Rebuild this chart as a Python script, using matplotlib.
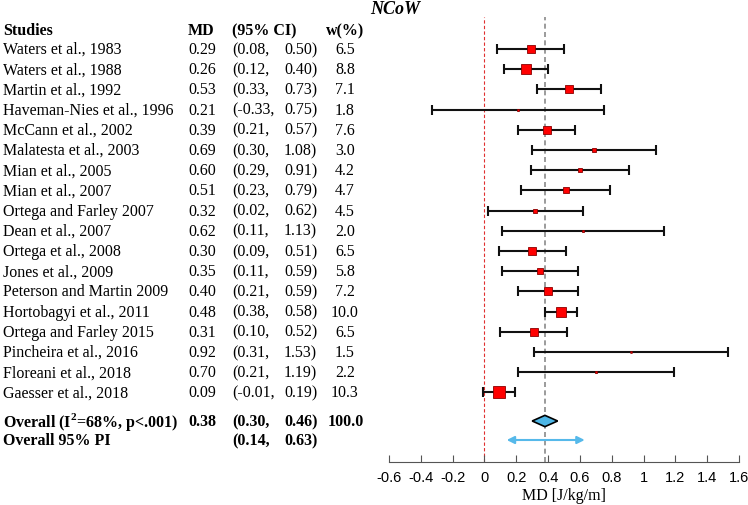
import matplotlib
matplotlib.use('Agg')
import matplotlib.pyplot as plt
import matplotlib.transforms as mtransforms

plt.rcParams['font.family'] = 'Liberation Serif'
plt.rcParams['mathtext.fontset'] = 'custom'
plt.rcParams['mathtext.rm'] = 'Liberation Serif'
plt.rcParams['mathtext.bf'] = 'Liberation Serif:bold'

studies = ['Waters et al., 1983', 'Waters et al., 1988', 'Martin et al., 1992',
           'Haveman-Nies et al., 1996', 'McCann et al., 2002', 'Malatesta et al., 2003',
           'Mian et al., 2005', 'Mian et al., 2007', 'Ortega and Farley 2007',
           'Dean et al., 2007', 'Ortega et al., 2008', 'Jones et al., 2009',
           'Peterson and Martin 2009', 'Hortobagyi et al., 2011', 'Ortega and Farley 2015',
           'Pincheira et al., 2016', 'Floreani et al., 2018', 'Gaesser et al., 2018']
md = [0.29, 0.26, 0.53, 0.21, 0.39, 0.69, 0.60, 0.51, 0.32, 0.62, 0.30, 0.35,
      0.40, 0.48, 0.31, 0.92, 0.70, 0.09]
lo = [0.08, 0.12, 0.33, -0.33, 0.21, 0.30, 0.29, 0.23, 0.02, 0.11, 0.09, 0.11,
      0.21, 0.38, 0.10, 0.31, 0.21, -0.01]
hi = [0.50, 0.40, 0.73, 0.75, 0.57, 1.08, 0.91, 0.79, 0.62, 1.13, 0.51, 0.59,
      0.59, 0.58, 0.52, 1.53, 1.19, 0.19]
w = [6.5, 8.8, 7.1, 1.8, 7.6, 3.0, 4.2, 4.7, 4.5, 2.0, 6.5, 5.8, 7.2, 10.0,
     6.5, 1.5, 2.2, 10.3]

overall = 0.38
overall_ci = (0.30, 0.46)
pi = (0.14, 0.63)
xticks = [-0.6, -0.4, -0.2, 0, 0.2, 0.4, 0.6, 0.8, 1, 1.2, 1.4, 1.6]

W, H = 748, 506
fig = plt.figure(figsize=(W / 100, H / 100), dpi=100)
# axes placed in pixel terms: x -0.6..1.6 -> 389..739 px, top 18 px, axis line 463 px
ax = fig.add_axes([389 / W, 1 - 463 / H, 350 / W, (463 - 18) / H])

row_px0, row_step = 50, 20.2
def ypos(px):
    return (px - row_px0) / row_step

n = len(studies)
ax.set_xlim(-0.6, 1.6)
ax.set_ylim(ypos(463), ypos(18))

# reference lines
ax.axvline(0, color='#e03030', ls=(0, (3, 2)), lw=0.8, zorder=1)
ax.axvline(overall, color='#8a8a8a', ls=(0, (3, 2)), lw=1.2, zorder=1)

rows = list(range(n))
for i in rows:
    ax.errorbar(md[i], i, xerr=[[md[i] - lo[i]], [hi[i] - md[i]]], fmt='none',
                ecolor='#111111', elinewidth=1.5, capsize=3.5, capthick=1.5, zorder=2)
    ax.plot(md[i], i, marker='s', ms=0.78 * w[i], mfc='#ff0000', mec='#8b0000',
            mew=0.6, zorder=3)

# overall diamond
yd = ypos(422)
dh = 0.28
ax.fill([overall_ci[0], overall, overall_ci[1], overall],
        [yd, yd - dh, yd, yd + dh], facecolor='#4db6e6', edgecolor='black',
        lw=1.2, zorder=4)

# prediction interval arrow
yp = ypos(441)
ax.annotate('', xy=(pi[0], yp), xytext=(pi[1], yp),
            arrowprops=dict(arrowstyle='<|-|>', color='#56b9ea', lw=1.5,
                            mutation_scale=11, shrinkA=0, shrinkB=0))

for s in ['top', 'right', 'left']:
    ax.spines[s].set_visible(False)
ax.spines['bottom'].set_color('#555555')
ax.set_yticks([])
ax.set_xticks(xticks)
ax.set_xticklabels(['%g' % t for t in xticks], fontfamily='Liberation Sans',
                   fontsize=10.5)
ax.tick_params(axis='x', direction='in', length=5, color='#555555', pad=6)
ax.set_xlabel('MD [J/kg/m]', fontsize=11.5, labelpad=2)

# left table
tr = mtransforms.blended_transform_factory(fig.transFigure, ax.transData)
fs = 11.5
cx_name, cx_md, cx_ci1, cx_ci2, cx_w = 3 / W, 188 / W, 232 / W, 284 / W, 345 / W

yh = ypos(31)
ax.text(cx_name, yh, 'Studies', transform=tr, fontsize=fs, fontweight='bold', va='center')
ax.text(cx_md, yh, 'MD', transform=tr, fontsize=fs, fontweight='bold', va='center')
ax.text(cx_ci1, yh, '(95% CI)', transform=tr, fontsize=fs, fontweight='bold', va='center')
ax.text(cx_w, yh, 'w(%)', transform=tr, fontsize=fs, fontweight='bold', va='center', ha='center')

for i in rows:
    ax.text(cx_name, i, studies[i], transform=tr, fontsize=fs, va='center')
    ax.text(cx_md, i, '%.2f' % md[i], transform=tr, fontsize=fs, va='center')
    ax.text(cx_ci1, i, '(%.2f,' % lo[i], transform=tr, fontsize=fs, va='center')
    ax.text(cx_ci2, i, '%.2f)' % hi[i], transform=tr, fontsize=fs, va='center')
    ax.text(cx_w, i, '%.1f' % w[i], transform=tr, fontsize=fs, va='center', ha='center')

ax.text(cx_name, yd, r'Overall (I$^{\mathbf{2}}$=68%, p<.001)', transform=tr,
        fontsize=fs, fontweight='bold', va='center')
ax.text(cx_md, yd, '%.2f' % overall, transform=tr, fontsize=fs, fontweight='bold', va='center')
ax.text(cx_ci1, yd, '(%.2f,' % overall_ci[0], transform=tr, fontsize=fs, fontweight='bold', va='center')
ax.text(cx_ci2, yd, '%.2f)' % overall_ci[1], transform=tr, fontsize=fs, fontweight='bold', va='center')
ax.text(346 / W, yd, '100.0', transform=tr, fontsize=fs, fontweight='bold', va='center', ha='center')

ax.text(cx_name, yp, 'Overall 95% PI', transform=tr, fontsize=fs, fontweight='bold', va='center')
ax.text(cx_ci1, yp, '(%.2f,' % pi[0], transform=tr, fontsize=fs, fontweight='bold', va='center')
ax.text(cx_ci2, yp, '%.2f)' % pi[1], transform=tr, fontsize=fs, fontweight='bold', va='center')

fig.text(395 / W, 1 - 10 / H, 'NCoW', fontsize=13, fontweight='bold',
         fontstyle='italic', ha='center', va='center')

fig.savefig('out.png', dpi=100)
